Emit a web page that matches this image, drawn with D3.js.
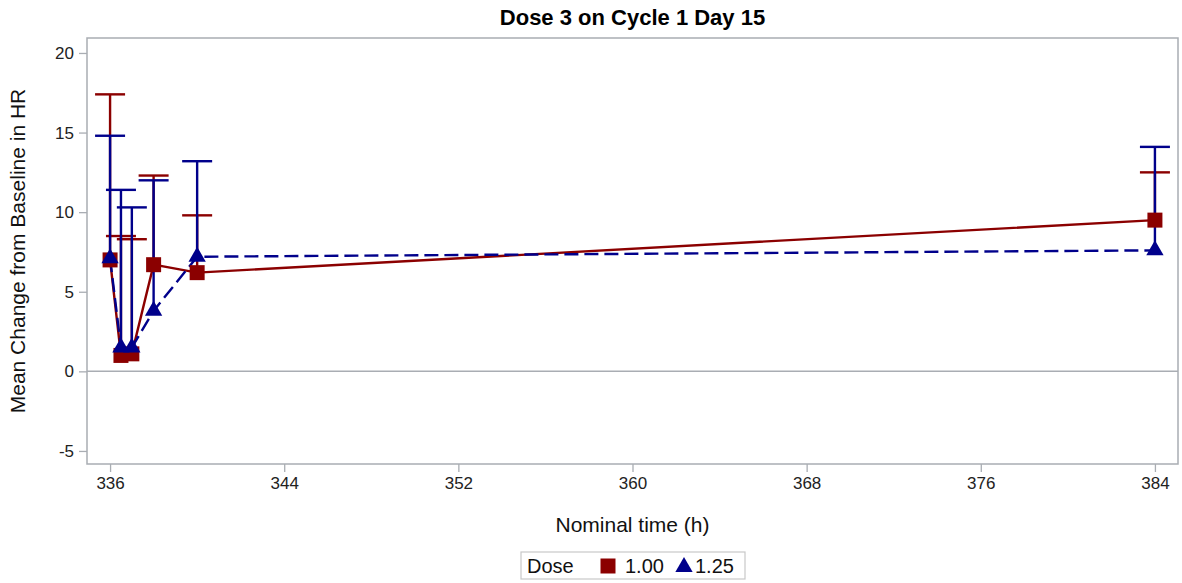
<!DOCTYPE html>
<html>
<head>
<meta charset="utf-8">
<script src="https://cdn.jsdelivr.net/npm/d3@7"></script>
<style>
  html, body { margin: 0; padding: 0; background: #fff; }
  svg { display: block; font-family: "Liberation Sans", Arial, sans-serif; }
</style>
</head>
<body>
<svg id="chart" width="1182" height="583"></svg>
<script>
// Nominal time (h) for each visit
const timesDose100 = [336, 336.5, 337, 338, 340, 384];
const timesDose125 = [336, 336.5, 337, 338, 340, 384];
// Mean change from baseline in HR
const meanDose100 = [7.0, 1.0, 1.1, 6.7, 6.2, 9.5];
const meanDose125 = [7.1, 1.5, 1.5, 3.8, 7.2, 7.6];
// Upper end of the error bar (mean + SD)
const upperDose100 = [17.4, 8.5, 8.3, 12.3, 9.8, 12.5];
const upperDose125 = [14.8, 11.4, 10.3, 12.0, 13.2, 14.1];

const xTicks = [336, 344, 352, 360, 368, 376, 384];
const yTicks = [-5, 0, 5, 10, 15, 20];
const doseLabels = ["1.00", "1.25"];

const RED = "#8b0000";
const BLUE = "#00008b";
const GRAY = "#a9adb3";
const FONT = "Liberation Sans, Arial, sans-serif";

const svg = d3.select("#chart");
const plot = { left: 87, right: 1178, top: 38, bottom: 464 };

const x = d3.scaleLinear().domain([334.94, 385.06]).range([plot.left, plot.right]);
const y = d3.scaleLinear().domain([-5.82, 20.94]).range([plot.bottom, plot.top]);

// Title
svg.append("text")
  .attr("x", (plot.left + plot.right) / 2).attr("y", 25)
  .attr("text-anchor", "middle")
  .attr("font-size", 22).attr("font-weight", "bold").attr("fill", "#000")
  .text("Dose 3 on Cycle 1 Day 15");

// Axes
const xAxis = svg.append("g")
  .attr("transform", `translate(0,${plot.bottom})`)
  .call(d3.axisBottom(x).tickValues(xTicks).tickSize(8).tickPadding(5).tickFormat(d3.format("d")));
const yAxis = svg.append("g")
  .attr("transform", `translate(${plot.left},0)`)
  .call(d3.axisLeft(y).tickValues(yTicks).tickSize(8).tickPadding(5).tickFormat(d => d < 0 ? "-" + Math.abs(d) : d));
[xAxis, yAxis].forEach(g => {
  g.attr("font-family", FONT).attr("font-size", 17);
  g.select(".domain").remove();
  g.selectAll(".tick line").attr("stroke", GRAY).attr("stroke-width", 1.3);
  g.selectAll(".tick text").attr("fill", "#222");
});

// Frame
svg.append("rect")
  .attr("x", plot.left).attr("y", plot.top)
  .attr("width", plot.right - plot.left).attr("height", plot.bottom - plot.top)
  .attr("fill", "none").attr("stroke", GRAY).attr("stroke-width", 1.5);

// Zero reference line
svg.append("line")
  .attr("x1", plot.left).attr("x2", plot.right)
  .attr("y1", y(0)).attr("y2", y(0))
  .attr("stroke", GRAY).attr("stroke-width", 1.5);

// Axis labels
svg.append("text")
  .attr("x", (plot.left + plot.right) / 2).attr("y", 532)
  .attr("text-anchor", "middle").attr("font-size", 21).attr("fill", "#111")
  .text("Nominal time (h)");
svg.append("text")
  .attr("transform", `translate(25,${(plot.top + plot.bottom) / 2}) rotate(-90)`)
  .attr("text-anchor", "middle").attr("font-size", 21).attr("fill", "#111")
  .text("Mean Change from Baseline in HR");

const series = [
  { t: timesDose100, m: meanDose100, u: upperDose100, color: RED, dash: null, shape: d3.symbolSquare, size: 225 },
  { t: timesDose125, m: meanDose125, u: upperDose125, color: BLUE, dash: "14,6", shape: d3.symbolTriangle, size: 130 }
];

const line = d3.line().x(d => x(d[0])).y(d => y(d[1]));

// Connecting lines
series.forEach(s => {
  svg.append("path")
    .datum(s.t.map((t, i) => [t, s.m[i]]))
    .attr("d", line)
    .attr("fill", "none").attr("stroke", s.color).attr("stroke-width", 2.4)
    .attr("stroke-dasharray", s.dash);
});

// Upper error bars with caps
series.forEach(s => {
  const g = svg.append("g").attr("stroke", s.color).attr("stroke-width", 2.4);
  s.t.forEach((t, i) => {
    g.append("line").attr("x1", x(t)).attr("x2", x(t)).attr("y1", y(s.m[i])).attr("y2", y(s.u[i]));
    g.append("line").attr("x1", x(t) - 15).attr("x2", x(t) + 15).attr("y1", y(s.u[i])).attr("y2", y(s.u[i]));
  });
});

// Markers
series.forEach(s => {
  svg.append("g").selectAll("path")
    .data(s.t.map((t, i) => [t, s.m[i]]))
    .join("path")
    .attr("transform", d => `translate(${x(d[0])},${y(d[1])})`)
    .attr("d", d3.symbol().type(s.shape).size(s.size))
    .attr("fill", s.color);
});

// Legend
const leg = svg.append("g").attr("transform", "translate(521,552)");
leg.append("rect").attr("width", 224).attr("height", 27)
  .attr("fill", "#fff").attr("stroke", "#c8c8c8").attr("stroke-width", 1.2);
leg.append("text").attr("x", 6).attr("y", 21).attr("font-size", 20).attr("fill", "#111").text("Dose");
leg.append("path").attr("transform", "translate(87,14)")
  .attr("d", d3.symbol().type(d3.symbolSquare).size(225)).attr("fill", RED);
leg.append("text").attr("x", 104).attr("y", 21).attr("font-size", 20).attr("fill", "#111").text(doseLabels[0]);
leg.append("path").attr("transform", "translate(163,15)")
  .attr("d", d3.symbol().type(d3.symbolTriangle).size(130)).attr("fill", BLUE);
leg.append("text").attr("x", 174).attr("y", 21).attr("font-size", 20).attr("fill", "#111").text(doseLabels[1]);
</script>
</body>
</html>
